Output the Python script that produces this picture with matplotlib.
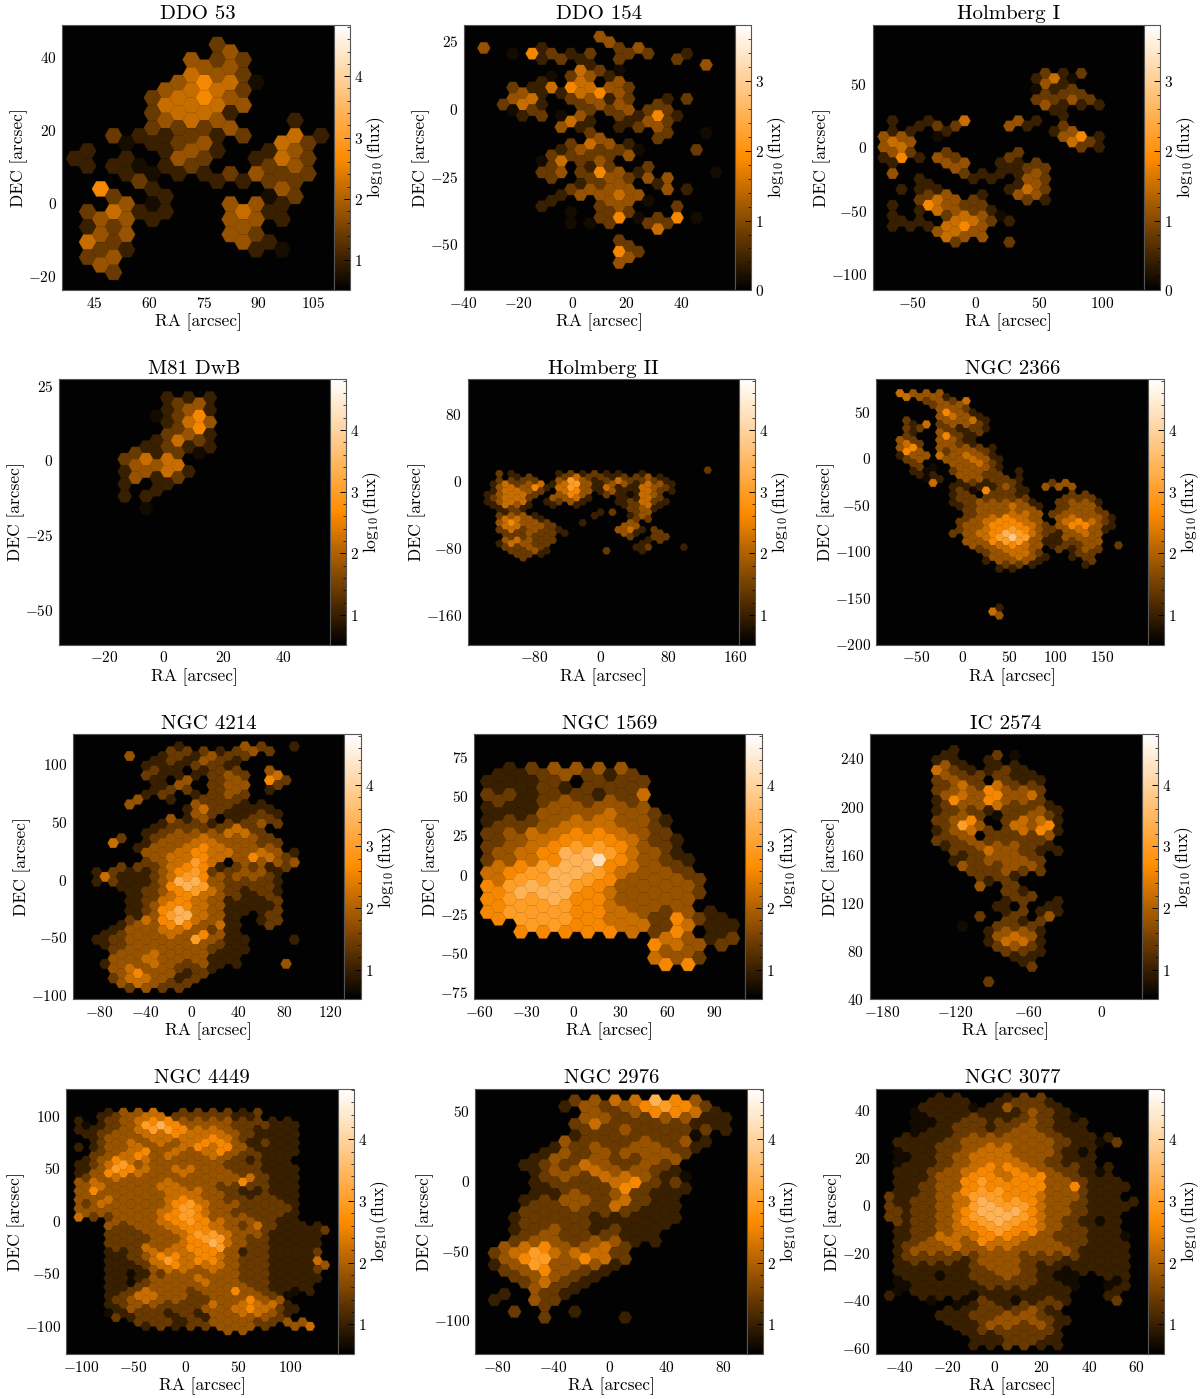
import matplotlib
matplotlib.use('Agg')
import matplotlib.pyplot as plt
from matplotlib.colors import LinearSegmentedColormap
from matplotlib.ticker import AutoMinorLocator

plt.rcParams['font.family'] = ['cmr10', 'DejaVu Serif']
plt.rcParams['mathtext.fontset'] = 'cm'
plt.rcParams['axes.formatter.use_mathtext'] = True
plt.rcParams['axes.unicode_minus'] = False

# log10(flux), one level per digit in the rows below
flux_levels = [0.7, 1.0, 1.4, 1.8, 2.2, 2.6, 3.0, 3.4, 3.8, 4.2]
flux_levels_low = [0.16, 0.43, 0.78, 1.13, 1.49, 1.84, 2.2, 2.55, 2.9, 3.26]

titles = ['DDO 53', 'DDO 154', 'Holmberg I', 'M81 DwB', 'Holmberg II', 'NGC 2366',
          'NGC 4214', 'NGC 1569', 'IC 2574', 'NGC 4449', 'NGC 2976', 'NGC 3077']

# each string is one row of hexagons, top to bottom, '.' is an empty bin
ddo53_rows = [
    ".....2....", "......3...", "....322...", ".....33...", "....432...", "....3540..",
    "...3442...", "...2453...", "...4443...", "...2441...", "...343..1.", "...2223...",
    ".211212.41", "..0123..42", "1..131.13.", "1.1.32.142", "11012..23.", "..10112322",
    "..2..1122.", ".5.1....3.", ".2.1...02.", "..30..331.", "2411..41..", ".331..331.",
    "12....3...", ".33...32..", "42....31..", ".21....10.", "23........", ".3........",
    ".2........",
]
ddo154_rows = [
    "......3", "......3", "3..1...23", ".05212.22.1", "...121.2..2", ".....1.....3",
    ".....420", "...0231", "...1.4.3", ".2145432", "..311453", ".34.2312.12",
    ".241.233.2", ".02..22322", "..1203.2151", "....41.132", "....31.123", ".....2...2.0",
    "......3..2", "....2431", "....13220..2", "...22223", "...0423", "...2.12.2",
    "...232531...0", "...2.23233", ".....123.1", "....2333.31", "....13343", "...1..330",
    "...1..23..2", "....0.22", "......250250", "....002.22", ".........4", "",
    ".......2", ".......2", ".......52", ".......3", ".......3",
]
holmberg1_rows = [
    ".........212", "........140", ".........31", "........012", ".........222", "........2232",
    ".........3111", ".........1", "..........1", "1.1.4..31", "..122..31.2", "11.1.....13",
    "33.0......351", "43........42", "34.........21", "32.2...2", "15132..2", "1..33.112",
    "....3..122", "3...21113", "..1..11.32", "..1....13", ".111...142", "..23.1.33",
    "..2432..21", "1.5322", "..14321", "1..2430", ".11.4421", "111453",
    "...343", "...433", "....2..2",
]
m81dwb_rows = [
    "..111", "..23", "..131", ".025", "..143", "..25", "..231", ".142", ".1211", "2120",
    "244", "334", "1341", "312", "1.1", ".1", "11", "", ".0",
]
holmberg2_rows = [
    "..................2", ".21...121211.1", "..12..242212231", ".2222.3631242221", "1423414631331431",
    ".343514631411432", "14432.4531311421", "13442.353.21043", "2442.3341..1142", "1344.1231..12421",
    "1431.1.1...1241", ".121........231", ".12......12.23", ".2331....1..13", ".4431.......22",
    ".35332..1...3", ".44332.....33", ".242321....3412", ".223221....31.2", "..2222......2.22",
    ".34322.......12", ".14322.......1", ".2232.......12..1", "..2231....2..1", "..221", "...2",
]
ngc2366_rows = [
    "4333", "4331", "..2324", "..233", "...332", "...531", "...3431", "2..3341", ".142332",
    "22.2121", ".1.3212", "2..521", "32.331", "42.321", "35.33321", "53.2332", "13343431",
    "23.33431", ".2..3342", ".20.3331", ".10.2332.1", ".11.3322", "..01.33221", "..4.12122..23",
    "....111131.333", "....205221", "....12.221...22", "....222222..222", "....1233331.2331",
    "....1233431.233", ".....233333.2332", ".....23344323332", ".....234543.34331",
    "....2345543.4542", ".....335554235531", "....234565323431", "....234576421343",
    ".....3468631333", ".....33566311233", ".....3345431223.2", "......23443.2132",
    "......23442..22", ".......33431.12", "......13331...2", "........221...1", ".......11",
    "", "", "", "", "", "", "", "", "", ".......1", ".......4", ".......3",
]
ngc4214_rows = [
    ".....1...32.1", "....2221232", "..3.121322", "...121321", "...111221", "...21.122.3",
    "...2111232.4", "...1.3.23.52", "....13.233.2", "...122.23.1", "...12.1232", "..3.1.222",
    "..3...32211", ".....142111", "......321121", "....313.122", "....12212232", "...1222242",
    "...12333442", ".2.23343332", ".4.133443322", "..133454333", "...3345443431", "...344543542",
    "...23464.3333", ".22245512212", "121135622331", "41124653332", "121137732221", ".1125763222",
    "..1235642121", "..124543212", "..1245431112", "..135543111", "..1257431112", "..1367431.2",
    "..2457431.12", ".13355341.2", ".13344321", "123343531", "1233336311..1", "123333321",
    ".233333211", ".33433311", ".33433311", "133432311..3", ".3433221", ".353312",
    ".244312", ".34322", "..2322",
]
ngc1569_rows = [
    ".123333", "1123212", "1112.222", "1121222", "22122124", "2123232", "11133333",
    "11333432", "122344331", "22344432", "234455432", "234555421", "234566532", "345776431",
    "2345795321", "456775432", "4567764332", "4667653332", "5677653333", "5777543332",
    "5667553333", "566654333", "56665543231", "56665442521", "..6655442411", ".55555425.1",
    "........4312", ".......5432", "........33", ".......432", "........55",
]
ic2574_rows = [
    ".1", "1..20", "11.1", "31.11", "421121", "322211", "232.211", "242422", "2335332",
    "343534", "1535332", "2334221", "12212231", "2320232", "235.2441", "263.435", "13422451",
    "23.2223", "2232222", "1233321", ".2243211", ".12332", ".123332", ".32233", "..22322",
    "..221", "...12", "..3.2", "....21", "....22", "....12.1", "...1..1", "....1211",
    "..2.2.3", "....212", ".0.222", "...1331", "...343", "...1441", "...232", "....221",
    "....11", ".....1", ".....2", "", "", "...2",
]
ngc4449_rows = [
    "..1334.222212", ".12344222211", "1.2345533332211", "012367533322211", "112346654432111",
    "123344544432111", ".13334444542111", ".23434345531211", "113343345453111", ".23453434532111",
    ".23453433432211", "13544333332111", "124633333322211", "136543443322111",
    "135543343332211", "234333333334211", "343333433335211", "343334433222211", "353333444321111",
    "333333443321211", "334333454322221", "243333564332221", "333333465332222", "333334564322221",
    "422333565333221", "..3334565433211", "..323345543242111", "..223345543321112",
    "..222334664331111", "..22233566322111", "..222334574321111", "..22434556322111",
    "..112444553121112", "..12355454322111", "..112464553221114", "..112454443221113",
    "..111344343221112", "..10123333322111", "..111333433221111", "..10233343322111",
    "..11233333332111", "..12433233532101", "..1244332333320", "..234332233533",
    "..1233222434441", "..1322223345421", "..0122121334431", "..212212133332",
    "....222123332233", "....121223332.34", "..........33",
]
ngc2976_rows = [
    "....2344753", "...13235652", ".....3235541", "....33223311", "....24222211", "....22322221",
    "....1222220", "...32223231", "...12323321", "..13233332", "..13232233", ".12243232",
    "..13343321", "..23244310", "..12224522", "..12225211", "..11323211", ".12332421",
    "..22324211", ".22222211", ".122211111", ".22221111", ".12321211", ".2322211",
    ".23323311", "3453342", "2464442", "3563542", "1363331", "235321", ".23321", ".2421",
    "..321", "1.21", "1.32", "..2", ".2..1", "..2...1",
]
ngc3077_rows = [
    "...11..122", "..111.1221", "..111013221", ".0111111321", "..0112112210", ".00122223211",
    "..0122123211", ".01122233211", ".1112333332111", "11123333332102", ".112234433211",
    "011234433310", ".012344433211", "011234443211", ".1123455432211", "1123454543210",
    ".1133554553211", "11235655533211", ".12335555535111", "11235665533211", "21234665543311",
    "122347665332111", "212346766432111", "22235777533211", "21234677643211", "22235676532101",
    ".1234566543211", "12234565532211", ".12444554322110", "12343544332211", ".23343443332111",
    "13333333333111", ".22222332222111", "12221333221111", ".11112332111111", "11111233210111",
    ".11012232100.11", "01111222210..0", ".01111222110.01", "01111111111..1", "1.111011111..1",
    "..0.0210121..2", "....0121222", "...1122231", "...11223321", "...11233321", "....1133231",
    "....122222", ".....112221", ".....11221", ".....112211",
]
all_rows = [ddo53_rows, ddo154_rows, holmberg1_rows, m81dwb_rows, holmberg2_rows, ngc2366_rows,
            ngc4214_rows, ngc1569_rows, ic2574_rows, ngc4449_rows, ngc2976_rows, ngc3077_rows]

# RA, DEC of the first bin and the bin pitch in arcsec
ra_start = [39.5, -32.6, -73.1, -13.04, -135.9, -67.4, -82.1, -54.9, -135.2, -102.2, -81.8, -44.4]
dec_start = [43.57, 26.7, 58.7, 20.96, 13.3, 69.9, 115.2, 67.7, 246.8, 103.2, 57.5, 45.2]
ra_pitch = [3.56, 3.56, 7.12, 3.56, 7.12, 7.12, 7.12, 7.12, 7.1, 7.13, 7.12, 3.56]
dec_pitch = [2.086, 2.09, 4.18, 2.06, 4.18, 4.19, 4.18, 4.17, 4.18, 4.16, 4.2, 2.08]
row_shift = [1, 0, 0, 0, 1, 0, 0, 0, 0, 0, 0, 0]

xlims = [(36.1, 110.8), (-40, 60), (-81.7, 133.5), (-35.1, 55.7), (-159.4, 165.3), (-92.8, 199.6),
         (-102.6, 132), (-63.4, 109.6), (-190, 32.8), (-114, 145.9), (-95.3, 97.2), (-49.9, 65)]
ylims = [(-23.9, 49), (-67, 31.1), (-113.2, 97.2), (-61.7, 27.1), (-195, 121.7), (-200.3, 84.8),
         (-103.6, 125.7), (-79.6, 89.5), (40, 260), (-127, 125.7), (-124, 66), (-62.5, 49)]
xticks = [[45, 60, 75, 90, 105], [-40, -20, 0, 20, 40], [-50, 0, 50, 100], [-20, 0, 20, 40],
          [-80, 0, 80, 160], [-50, 0, 50, 100, 150], [-80, -40, 0, 40, 80, 120],
          [-60, -30, 0, 30, 60, 90], [-180, -120, -60, 0], [-100, -50, 0, 50, 100],
          [-80, -40, 0, 40, 80], [-40, -20, 0, 20, 40, 60]]
yticks = [[-20, 0, 20, 40], [-50, -25, 0, 25], [-100, -50, 0, 50], [-50, -25, 0, 25],
          [-160, -80, 0, 80], [-200, -150, -100, -50, 0, 50], [-100, -50, 0, 50, 100],
          [-75, -50, -25, 0, 25, 50, 75], [40, 80, 120, 160, 200, 240], [-100, -50, 0, 50, 100],
          [-100, -50, 0, 50], [-60, -40, -20, 0, 20, 40]]
cbar_ranges = [(0.51, 4.84), (0, 3.81), (0, 3.81)] + [(0.52, 4.82)] * 9
cbar_ticks = [[1, 2, 3, 4], [0, 1, 2, 3], [0, 1, 2, 3]] + [[1, 2, 3, 4]] * 9

# axes left, right, colour bar right, top, bottom in pixels
boxes = [(62.3, 334.3, 350.3, 24.7, 290.3), (463.7, 735.3, 751.3, 24.7, 290.3),
         (872.7, 1144.3, 1160.3, 24.7, 290.3), (58.7, 330.3, 346.3, 379.3, 644.7),
         (467.7, 739.3, 755.3, 379.3, 644.7), (876.3, 1148.3, 1164.3, 379.3, 644.7),
         (73, 344.3, 361, 734.3, 999.3), (474, 745, 762.3, 734.3, 999.3),
         (869.7, 1141.7, 1158, 734.3, 999.3), (66.3, 338.3, 354.3, 1088.7, 1354),
         (475.3, 747.3, 763.3, 1088.7, 1354), (876.3, 1148.3, 1164.3, 1088.7, 1354)]

FIG_W, FIG_H = 1200, 1399
FRAME = '#555555'

cmap = LinearSegmentedColormap.from_list('flux', ['#000000', '#ff8c00', '#ffffff'])


def read_rows(rows, x0, y0, dx, dy, shift, levels):
    """Turn the digit rows into bin centres and flux values"""
    ra, dec, flux = [], [], []
    for j, row in enumerate(rows):
        for i, ch in enumerate(row):
            if ch == '.':
                continue
            ra.append(x0 + dx * (2 * i + (j + shift) % 2))
            dec.append(y0 - dy * j)
            flux.append(levels[int(ch)])
    return ra, dec, flux


def tex_labels(ticks):
    return ['$%d$' % t for t in ticks]


fig = plt.figure(figsize=(FIG_W / 100, FIG_H / 100), dpi=100)

for n in range(12):
    left, right, cright, top, bottom = boxes[n]
    ax = fig.add_axes([left / FIG_W, 1 - bottom / FIG_H, (right - left) / FIG_W, (bottom - top) / FIG_H])
    cax = fig.add_axes([right / FIG_W, 1 - bottom / FIG_H, (cright - right) / FIG_W, (bottom - top) / FIG_H])

    levels = flux_levels_low if n in (1, 2) else flux_levels
    ra, dec, flux = read_rows(all_rows[n], ra_start[n], dec_start[n], ra_pitch[n], dec_pitch[n],
                              row_shift[n], levels)

    # hexagon width in points from the bin pitch and the axis scale
    width_px = ra_pitch[n] * 4 / 3 * (right - left) / (xlims[n][1] - xlims[n][0])
    width_pt = width_px * 72 / 100

    ax.set_facecolor('#020202')
    sc = ax.scatter(ra, dec, c=flux, s=width_pt ** 2, marker='H', linewidths=0.25, edgecolors='face',
                    cmap=cmap, vmin=cbar_ranges[n][0], vmax=cbar_ranges[n][1])
    ax.set_xlim(xlims[n])
    ax.set_ylim(ylims[n])
    ax.set_xticks(xticks[n])
    ax.set_xticklabels(tex_labels(xticks[n]))
    ax.set_yticks(yticks[n])
    ax.set_yticklabels(tex_labels(yticks[n]))
    ax.tick_params(length=0, labelsize=11, pad=4)
    ax.set_xlabel('RA [arcsec]', fontsize=12.5, labelpad=2)
    ax.set_ylabel('DEC [arcsec]', fontsize=12.5, labelpad=0)
    ax.set_title(titles[n], fontsize=15, pad=4)
    for spine in ax.spines.values():
        spine.set_color(FRAME)

    cb = fig.colorbar(sc, cax=cax)
    cb.set_ticks(cbar_ticks[n])
    cb.set_ticklabels(tex_labels(cbar_ticks[n]))
    cb.ax.yaxis.set_minor_locator(AutoMinorLocator(5))
    cb.ax.tick_params(which='major', direction='in', length=4, width=0.7, labelsize=11, pad=3)
    cb.ax.tick_params(which='minor', direction='in', length=2, width=0.5)
    cb.set_label(r'$\log_{10}(\mathrm{flux})$', fontsize=12.5)
    cb.ax.yaxis.set_label_coords(1.88, 0.5)
    cb.outline.set_edgecolor(FRAME)

fig.savefig('out.png', dpi=100)
